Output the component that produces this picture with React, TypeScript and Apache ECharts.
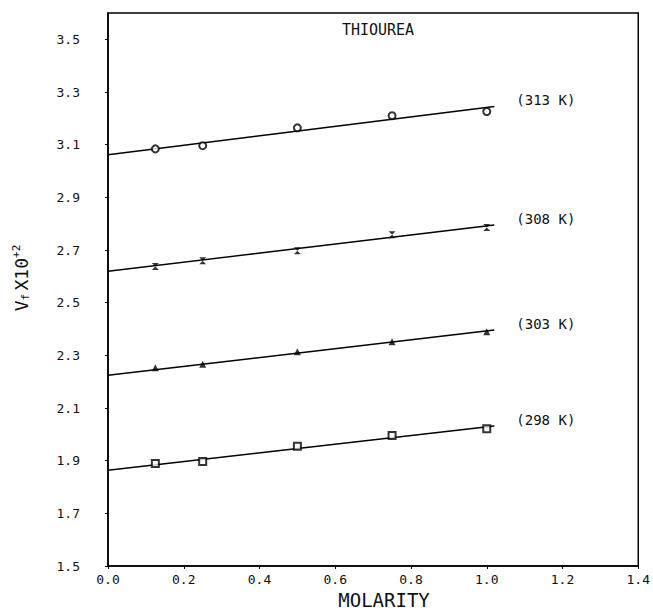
import React, { useEffect, useRef } from "react";
import * as echarts from "echarts";

const molarity = [0.125, 0.25, 0.5, 0.75, 1.0];
const vf313 = [3.084, 3.096, 3.164, 3.21, 3.226];
const vf308 = [2.637, 2.659, 2.697, 2.758, 2.785];
const vf303 = [2.253, 2.266, 2.314, 2.352, 2.39];
const vf298 = [1.889, 1.897, 1.955, 1.996, 2.021];

const fitX = [0, 1.02];
const fit313 = [3.062, 3.245];
const fit308 = [2.619, 2.795];
const fit303 = [2.224, 2.396];
const fit298 = [1.864, 2.032];

const seriesNames = ["(313 K)", "(308 K)", "(303 K)", "(298 K)"];
const yTicks = [1.5, 1.7, 1.9, 2.1, 2.3, 2.5, 2.7, 2.9, 3.1, 3.3, 3.5];

const MONO = "DejaVu Sans Mono";
const HOURGLASS = "path://M0,0 L10,0 L0,10 L10,10 Z";

export default function App() {
  const ref = useRef<HTMLDivElement>(null);
  useEffect(() => {
    if (!ref.current) return;
    const chart = echarts.init(ref.current, undefined, { renderer: "svg" });
    const pts = (ys: number[]) => molarity.map((x, i) => [x, ys[i]]);
    const fit = (ys: number[]) => fitX.map((x, i) => [x, ys[i]]);
    const values = [vf313, vf308, vf303, vf298];
    const fits = [fit313, fit308, fit303, fit298];
    const symbols = ["emptyCircle", HOURGLASS, "triangle", "emptyRect"];
    const sizes = [7, 7, 7, 7];
    const series: any[] = [];
    values.forEach((v, k) => {
      series.push({
        type: "line",
        data: fit(fits[k]),
        showSymbol: false,
        symbol: "none",
        lineStyle: { color: "#000", width: 1.5 },
        endLabel: {
          show: true,
          formatter: seriesNames[k],
          offset: [14, -6],
          fontFamily: MONO,
          fontSize: 14,
          color: "#111",
        },
        z: 2,
      });
      series.push({
        type: "scatter",
        data: pts(v),
        symbol: symbols[k],
        symbolSize: sizes[k],
        itemStyle: { color: "#000", borderWidth: 1.5 },
        z: 3,
      });
    });
    chart.setOption({
      animation: false,
      grid: {
        left: 108,
        right: 10,
        top: 13,
        bottom: 45,
        show: true,
        borderColor: "#000",
        borderWidth: 1.5,
      },
      xAxis: {
        type: "value",
        min: 0,
        max: 1.4,
        interval: 0.2,
        splitLine: { show: false },
        axisLine: { show: true, lineStyle: { color: "#000", width: 1.5 } },
        axisTick: { show: true, length: 3, lineStyle: { color: "#000" } },
        axisLabel: {
          formatter: (v: number) => v.toFixed(1),
          fontFamily: MONO,
          fontSize: 13,
          color: "#111",
          margin: 7,
        },
      },
      yAxis: {
        type: "value",
        min: 1.5,
        max: 3.6,
        splitLine: { show: false },
        axisLine: { show: true, lineStyle: { color: "#000", width: 1.5 } },
        axisTick: {
          show: true,
          length: 3,
          customValues: yTicks,
          lineStyle: { color: "#000" },
        },
        axisLabel: {
          customValues: yTicks,
          formatter: (v: number) => v.toFixed(1),
          fontFamily: MONO,
          fontSize: 13,
          color: "#111",
          margin: 28,
        },
      },
      graphic: [
        {
          type: "text",
          x: 378,
          y: 30,
          style: {
            text: "THIOUREA",
            fontFamily: MONO,
            fontSize: 15,
            fill: "#111",
            align: "center",
            verticalAlign: "middle",
          },
        },
        {
          type: "text",
          x: 384,
          y: 600,
          style: {
            text: "MOLARITY",
            fontFamily: MONO,
            fontSize: 19,
            fill: "#111",
            align: "center",
            verticalAlign: "middle",
          },
        },
        {
          type: "text",
          x: 21,
          y: 278,
          rotation: Math.PI / 2,
          style: {
            text: "{v|V}{s|f} {v|X10}{p|+2}",
            align: "center",
            verticalAlign: "middle",
            fill: "#111",
            rich: {
              v: { fontFamily: MONO, fontSize: 18, fill: "#111" },
              s: { fontFamily: MONO, fontSize: 11, fill: "#111", padding: [8, 0, 0, 0] },
              p: { fontFamily: MONO, fontSize: 11, fill: "#111", padding: [0, 0, 10, 0] },
            },
          },
        },
      ],
      series,
    });
    return () => chart.dispose();
  }, []);
  return (
    <div
      ref={ref}
      style={{ position: "absolute", left: 0, top: 0, width: 653, height: 611 }}
    />
  );
}
